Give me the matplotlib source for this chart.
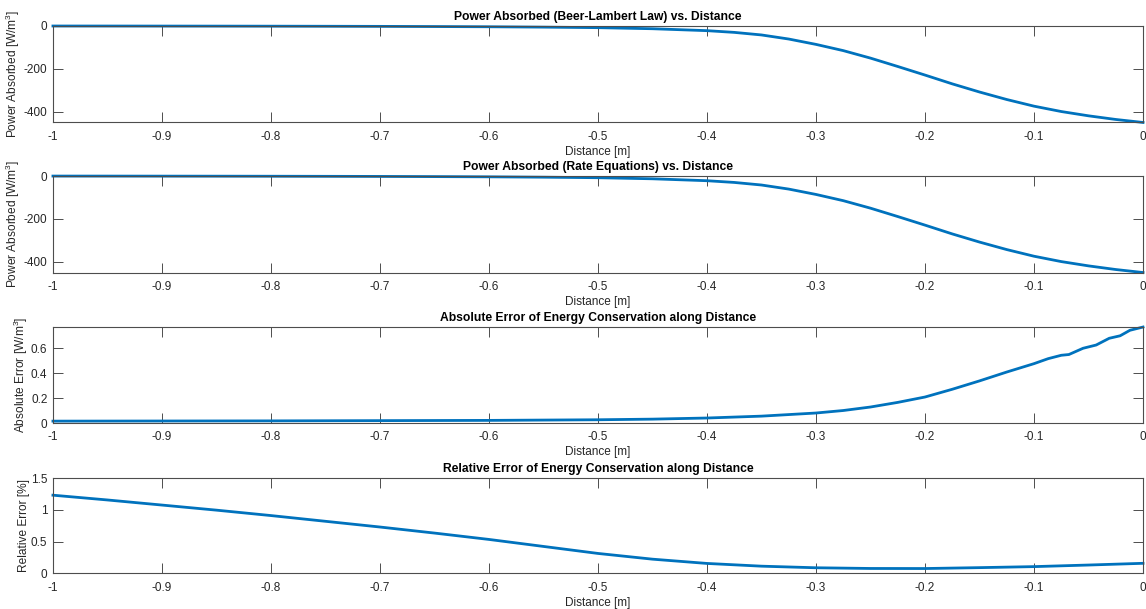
import matplotlib
matplotlib.use("Agg")
import matplotlib.pyplot as plt
import matplotlib.ticker as mticker

plt.rcParams['font.family'] = ['Liberation Sans', 'DejaVu Sans']
plt.rcParams['mathtext.fontset'] = 'custom'
plt.rcParams['mathtext.rm'] = 'Liberation Sans'
plt.rcParams['mathtext.it'] = 'Liberation Sans'
plt.rcParams['axes.unicode_minus'] = False

TEXT_COLOR = '#262626'
AXIS_COLOR = '#4d4d4d'
LINE_COLOR = '#0072bd'

# power absorbed along the slab [W/m^3]
dist_power = [-1.0, -0.95, -0.9, -0.85, -0.8, -0.75, -0.7, -0.65, -0.6, -0.55,
              -0.5, -0.45, -0.4, -0.375, -0.35, -0.325, -0.3, -0.275, -0.25,
              -0.225, -0.2, -0.175, -0.15, -0.125, -0.1, -0.075, -0.05, -0.025, 0.0]
power_beer = [-0.3, -0.4, -0.6, -0.8, -1.1, -1.5, -2.0, -2.8, -3.8, -5.5,
              -8, -13, -22, -30, -42, -61, -86, -115, -150,
              -189, -229, -270, -308, -343, -374, -399, -419, -436, -450]
power_rate = [-0.3, -0.4, -0.6, -0.8, -1.1, -1.5, -2.0, -2.8, -3.8, -5.5,
              -8, -13, -22, -30, -42, -61, -86, -115, -150,
              -189, -229, -270, -308, -343, -374, -399, -419, -436, -450]

# absolute error of energy conservation [W/m^3]
dist_abs = [-1.0, -0.9, -0.8, -0.7, -0.6, -0.5, -0.45, -0.4, -0.35, -0.3, -0.275,
            -0.25, -0.225, -0.2, -0.175, -0.15, -0.125, -0.1, -0.087, -0.075,
            -0.068, -0.055, -0.043, -0.031, -0.021, -0.012, 0.0]
abs_err = [0.015, 0.016, 0.017, 0.019, 0.021, 0.026, 0.031, 0.040, 0.055, 0.080, 0.100,
           0.128, 0.165, 0.208, 0.270, 0.337, 0.408, 0.475, 0.515, 0.542,
           0.548, 0.598, 0.624, 0.678, 0.698, 0.742, 0.768]

# relative error of energy conservation [%]
dist_rel = [-1.0, -0.95, -0.9, -0.85, -0.8, -0.75, -0.7, -0.65, -0.6, -0.55,
            -0.5, -0.45, -0.4, -0.35, -0.3, -0.25, -0.2, -0.15, -0.1, -0.05, 0.0]
rel_err = [1.23, 1.155, 1.075, 0.995, 0.91, 0.82, 0.73, 0.635, 0.535, 0.425,
           0.315, 0.225, 0.158, 0.115, 0.09, 0.079, 0.078, 0.092, 0.108, 0.133, 0.16]

x_ticks = [-1, -0.9, -0.8, -0.7, -0.6, -0.5, -0.4, -0.3, -0.2, -0.1, 0]

panels = [
    (dist_power, power_beer, 'Power Absorbed (Beer-Lambert Law) vs. Distance',
     r'Power Absorbed [W/m$^3$]', (min(power_beer), 0), [-400, -200, 0]),
    (dist_power, power_rate, 'Power Absorbed (Rate Equations) vs. Distance',
     r'Power Absorbed [W/m$^3$]', (min(power_rate), 0), [-400, -200, 0]),
    (dist_abs, abs_err, 'Absolute Error of Energy Conservation along Distance',
     r'Absolute Error [W/m$^3$]', (0, max(abs_err)), [0, 0.2, 0.4, 0.6]),
    (dist_rel, rel_err, 'Relative Error of Energy Conservation along Distance',
     'Relative Error [%]', (0, 1.5), [0, 0.5, 1, 1.5]),
]

# axes rectangles [left, bottom, width, height] in figure fractions
rects = [
    [0.0462, 0.7989, 0.9512, 0.1585],
    [0.0462, 0.5525, 0.9512, 0.1585],
    [0.0462, 0.3054, 0.9512, 0.1576],
    [0.0462, 0.0583, 0.9512, 0.1568],
]
# ylabel x-offset (axes fraction), wider tick labels push it further out
ylabel_x = [-0.0285, -0.0280, -0.0215, -0.0215]

fig = plt.figure(figsize=(11.46, 6.09), dpi=100)
fmt = mticker.FuncFormatter(lambda v, p: '%g' % round(v, 6))

for rect, lx, (xs, ys, title, ylabel, ylim, yticks) in zip(rects, ylabel_x, panels):
    ax = fig.add_axes(rect)
    ax.plot(xs, ys, color=LINE_COLOR, lw=2.0, clip_on=False, solid_joinstyle='round')
    ax.set_xlim(-1, 0)
    ax.set_ylim(*ylim)
    ax.set_xticks(x_ticks)
    ax.set_yticks(yticks)
    ax.xaxis.set_major_formatter(fmt)
    ax.yaxis.set_major_formatter(fmt)
    ax.tick_params(direction='in', length=7, width=0.7, colors=AXIS_COLOR,
                   labelcolor=TEXT_COLOR, labelsize=8.5, top=True, right=True)
    ax.tick_params(axis='x', pad=6)
    ax.tick_params(axis='y', pad=4)
    for s in ax.spines.values():
        s.set_color(AXIS_COLOR)
        s.set_linewidth(0.8)
    ax.set_title(title, fontsize=8.7, fontweight='bold', color='black', pad=4)
    ax.set_xlabel('Distance [m]', fontsize=8.5, color=TEXT_COLOR, labelpad=2)
    ax.set_ylabel(ylabel, fontsize=8.6, color=TEXT_COLOR)
    ax.yaxis.set_label_coords(lx, 0.5)

fig.savefig('out.png', dpi=100)
